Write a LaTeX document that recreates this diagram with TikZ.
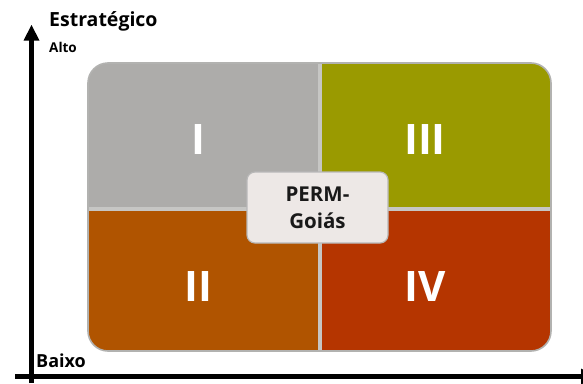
\documentclass[tikz,border=0pt]{standalone}
\usepackage{fontspec}
\setmainfont{Open Sans}
\begin{document}
\begin{tikzpicture}[x=1pt,y=-1pt,
  axisline/.style={line width=5.5pt,black},
  numlabel/.style={text=white,font=\fontsize{42}{44}\selectfont\bfseries,inner sep=0pt},
  axislabel/.style={font=\bfseries,inner sep=0pt,anchor=west},
  centerbox/.style={draw=black!28,line width=1.2pt,fill=quadcenter,rounded corners=8pt,minimum width=141pt,minimum height=71pt,inner sep=0pt,align=center,font=\fontsize{20.5}{27}\selectfont\bfseries,text=black!90}]
\definecolor{quadI}{HTML}{ADACAA}
\definecolor{quadII}{HTML}{B05400}
\definecolor{quadIII}{HTML}{9A9A00}
\definecolor{quadIV}{HTML}{B53500}
\definecolor{quadgap}{HTML}{C6C6C4}
\definecolor{quadcenter}{HTML}{EDE8E6}
\useasboundingbox (0,0) rectangle (583,383);
\fill[white] (0,0) rectangle (583,383);
% quadrants
\begin{scope}
  \clip[rounded corners=20pt] (88,63) rectangle (551,351);
  \fill[quadI] (88,63) rectangle (320,208);
  \fill[quadIII] (320,63) rectangle (551,208);
  \fill[quadII] (88,208) rectangle (320,351);
  \fill[quadIV] (320,208) rectangle (551,351);
  \draw[quadgap,line width=4pt] (88,208.5) -- (551,208.5);
  \draw[quadgap,line width=4pt] (320,63) -- (320,351);
\end{scope}
\draw[quadgap!90!black,line width=1.6pt,rounded corners=20pt] (88,63) rectangle (551,351);
\node[numlabel] (nI) at (198,140) {I};
\node[numlabel] (nIII) at (425,140) {III};
\node[numlabel] (nII) at (198,287) {II};
\node[numlabel] (nIV) at (425,287) {IV};
\node[centerbox] (perm) at (317.5,207.5) {PERM-\\Goiás};
% axes
\coordinate (ybot) at (31.5,383);
\coordinate (ytop) at (31.5,40);
\coordinate (xleft) at (15,376.5);
\coordinate (xright) at (582,376.5);
\draw[axisline] (ybot) -- (ytop);
\fill[black] (23.5,40.5) -- (39.5,40.5) -- (31.5,25) -- cycle;
\draw[axisline] (xleft) -- (xright);
\fill[black] (581,368.5) -- (581,384.5) -- (597,376.5) -- cycle;
\node[axislabel,font=\fontsize{19.5}{22}\selectfont\bfseries] (estr) at (49,21) {Estratégico};
\node[axislabel,font=\fontsize{13.5}{16}\selectfont\bfseries] (alto) at (49,47) {Alto};
\node[axislabel,font=\fontsize{18}{20}\selectfont\bfseries] (baixo) at (36,361) {Baixo};
\end{tikzpicture}
\end{document}
